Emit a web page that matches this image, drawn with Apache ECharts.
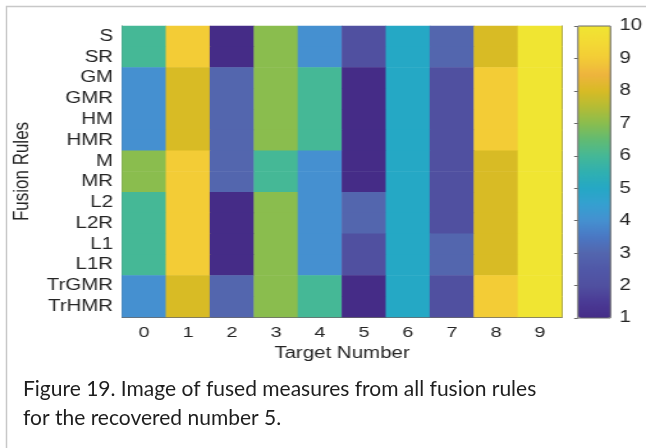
<!DOCTYPE html>
<html>
<head>
<meta charset="utf-8">
<script src="https://cdn.jsdelivr.net/npm/echarts@6/dist/echarts.min.js"></script>
<style>
  html, body { margin: 0; padding: 0; background: #ffffff; }
  #wrap { position: relative; width: 646px; height: 448px; overflow: hidden; background: #fff; }
  #fig { position: absolute; left: 0; top: 0; width: 505px; height: 448px; transform: scaleX(1.2792); transform-origin: 0 0; }
  #cap { position: absolute; left: 0; top: 0; width: 646px; height: 448px; pointer-events: none; }
</style>
</head>
<body>
<div id="wrap"><div id="fig"></div><div id="cap"></div></div>
<script>
// ---- data ----
const targets = ['0', '1', '2', '3', '4', '5', '6', '7', '8', '9'];
const rules = ['S', 'SR', 'GM', 'GMR', 'HM', 'HMR', 'M', 'MR', 'L2', 'L2R', 'L1', 'L1R', 'TrGMR', 'TrHMR'];
const rowS     = [6, 9, 1, 7, 4, 2, 5, 3, 8, 10];
const rowSR    = [6, 9, 1, 7, 4, 2, 5, 3, 8, 10];
const rowGM    = [4, 8, 3, 7, 6, 1, 5, 2, 9, 10];
const rowGMR   = [4, 8, 3, 7, 6, 1, 5, 2, 9, 10];
const rowHM    = [4, 8, 3, 7, 6, 1, 5, 2, 9, 10];
const rowHMR   = [4, 8, 3, 7, 6, 1, 5, 2, 9, 10];
const rowM     = [7, 9, 3, 6, 4, 1, 5, 2, 8, 10];
const rowMR    = [7, 9, 3, 6, 4, 1, 5, 2, 8, 10];
const rowL2    = [6, 9, 1, 7, 4, 3, 5, 2, 8, 10];
const rowL2R   = [6, 9, 1, 7, 4, 3, 5, 2, 8, 10];
const rowL1    = [6, 9, 1, 7, 4, 2, 5, 3, 8, 10];
const rowL1R   = [6, 9, 1, 7, 4, 2, 5, 3, 8, 10];
const rowTrGMR = [4, 8, 3, 7, 6, 1, 5, 2, 9, 10];
const rowTrHMR = [4, 8, 3, 7, 6, 1, 5, 2, 9, 10];
const colorTicks = [1, 2, 3, 4, 5, 6, 7, 8, 9, 10];
const captionLine1 = 'Figure 19. Image of fused measures from all fusion rules';
const captionLine2 = 'for the recovered number 5.';

const rows = [rowS, rowSR, rowGM, rowGMR, rowHM, rowHMR, rowM, rowMR, rowL2, rowL2R, rowL1, rowL1R, rowTrGMR, rowTrHMR];
const heatData = [];
rows.forEach((r, yi) => r.forEach((v, xi) => heatData.push([xi, yi, v])));

const parula = ['#452c87', '#4a3a95', '#5050a0', '#5058a8', '#5366ae', '#4a78c4', '#4590d0', '#35a0d0',
  '#25a8c5', '#30b0b0', '#45b896', '#62bb72', '#8abd4e', '#b4bc35', '#d8bb25', '#eeb43e', '#f3cc36', '#f3da34', '#f0e532'];

const axisCol = '#6a6a6a';
const txtCol = '#262626';
const FONT = '"Liberation Sans", Arial, Helvetica, sans-serif';

const chart = echarts.init(document.getElementById('fig'), null, { renderer: 'canvas' });
chart.setOption({
  animation: false,
  textStyle: { fontFamily: FONT },
  grid: [
    { left: 95.4, right: 65.7, top: 26, bottom: 131, containLabel: false },
    { left: 451.8, right: 27.4, top: 26, bottom: 130, show: true, borderColor: axisCol, borderWidth: 1, backgroundColor: 'transparent', z: 10 }
  ],
  xAxis: [
    { type: 'category', data: targets, gridIndex: 0, position: 'bottom',
      axisLine: { lineStyle: { color: axisCol, width: 1 } },
      axisTick: { inside: true, alignWithLabel: true, interval: 0, length: 4, lineStyle: { color: axisCol } },
      axisLabel: { interval: 0, hideOverlap: false, margin: 8, fontSize: 15.5, color: txtCol, fontFamily: FONT },
      name: 'Target Number', nameLocation: 'middle', nameGap: 29,
      nameTextStyle: { fontSize: 16, color: txtCol, fontFamily: FONT },
      splitLine: { show: false } },
    { type: 'category', data: targets, gridIndex: 0, position: 'top',
      axisLine: { lineStyle: { color: axisCol, width: 1 } },
      axisTick: { inside: true, alignWithLabel: true, interval: 0, length: 4, lineStyle: { color: axisCol } },
      axisLabel: { show: false }, splitLine: { show: false } },
    { type: 'value', gridIndex: 1, show: false, min: 0, max: 1 }
  ],
  yAxis: [
    { type: 'category', data: rules, gridIndex: 0, inverse: true, position: 'left',
      axisLine: { lineStyle: { color: axisCol, width: 1 } },
      axisTick: { inside: true, alignWithLabel: true, interval: 0, length: 3, lineStyle: { color: axisCol } },
      axisLabel: { interval: 0, hideOverlap: false, margin: 7, fontSize: 16, color: txtCol, fontFamily: FONT },
      name: 'Fusion Rules', nameLocation: 'middle', nameGap: 65,
      nameTextStyle: { fontSize: 17, color: txtCol, fontFamily: FONT },
      splitLine: { show: false } },
    { type: 'category', data: rules, gridIndex: 0, inverse: true, position: 'right',
      axisLine: { lineStyle: { color: axisCol, width: 1 } },
      axisTick: { inside: true, alignWithLabel: true, interval: 0, length: 3, lineStyle: { color: axisCol } },
      axisLabel: { show: false }, splitLine: { show: false } },
    { type: 'value', gridIndex: 1, position: 'right', min: 1, max: 10, interval: 1,
      axisLine: { show: false },
      axisTick: { show: true, inside: true, length: 3, lineStyle: { color: axisCol } },
      axisLabel: { hideOverlap: false, margin: 7, fontSize: 16, color: txtCol, fontFamily: FONT },
      splitLine: { show: false } }
  ],
  visualMap: {
    type: 'continuous', min: 1, max: 10, calculable: false, seriesIndex: 0, dimension: 2,
    orient: 'vertical', left: 451.8, top: 26, itemWidth: 25.8, itemHeight: 292, padding: 0,
    text: null, showLabel: false, inRange: { color: parula }, hoverLink: false
  },
  series: [{
    type: 'heatmap', xAxisIndex: 0, yAxisIndex: 0, data: heatData,
    itemStyle: { borderWidth: 0 }, emphasis: { disabled: true }, progressive: 0
  }]
});

const cap = echarts.init(document.getElementById('cap'), null, { renderer: 'canvas' });
cap.setOption({
  animation: false,
  graphic: [
    { type: 'polyline', shape: { points: [[6.5, 448], [6.5, 6.5], [646, 6.5]] }, style: { stroke: '#c8c8c8', lineWidth: 1.5, fill: null } },
    { type: 'text', left: 23, top: 379, style: { text: captionLine1, font: '21px Lato, "Open Sans", sans-serif', fill: '#1e1e1e' } },
    { type: 'text', left: 23, top: 408, style: { text: captionLine2, font: '21px Lato, "Open Sans", sans-serif', fill: '#1e1e1e' } }
  ]
});
</script>
</body>
</html>
